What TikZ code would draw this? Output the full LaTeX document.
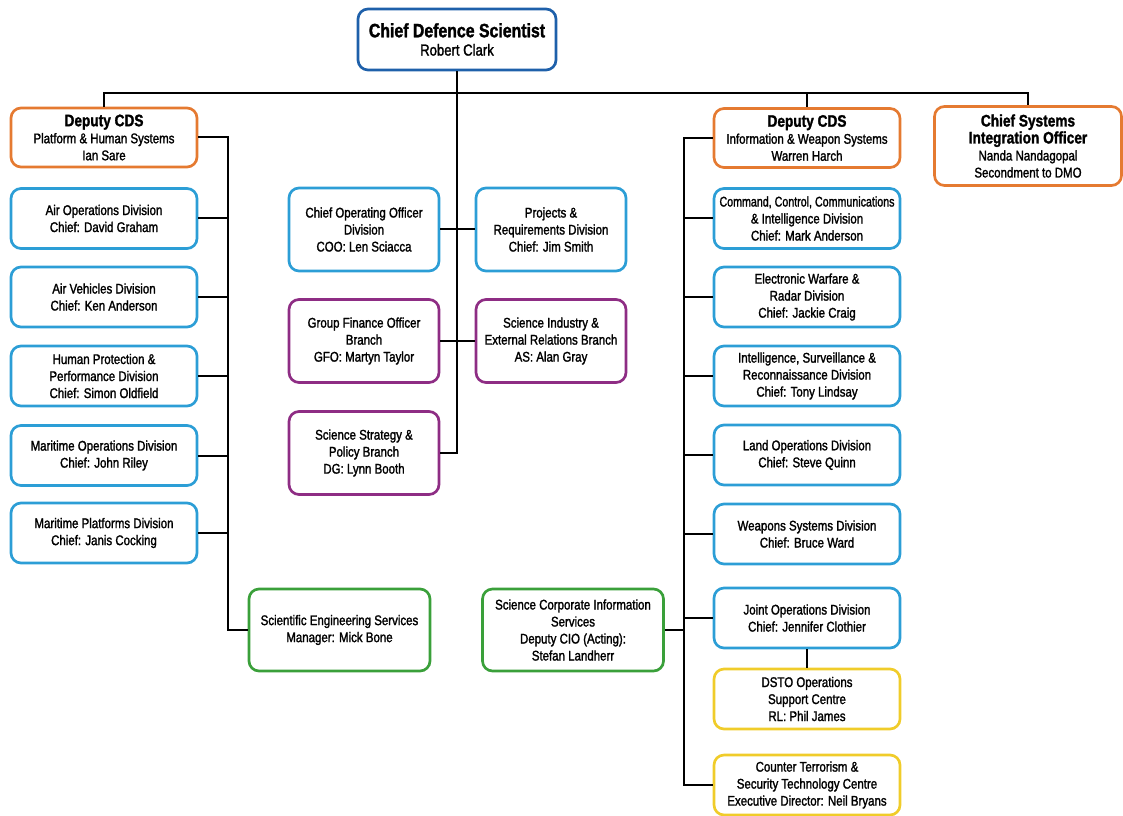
\documentclass[tikz,border=0pt]{standalone}
\usepackage{fontspec}
\setmainfont{Liberation Sans}[FakeStretch=0.82,FakeBold=1.6]
\definecolor{cblue}{RGB}{44,158,214}
\definecolor{cdsblue}{RGB}{30,96,170}
\definecolor{corange}{RGB}{229,122,49}
\definecolor{cpurple}{RGB}{142,45,132}
\definecolor{cgreen}{RGB}{58,160,58}
\definecolor{cyellow}{RGB}{240,204,42}
\newcommand{\ttl}[1]{{\fontsize{12.5}{15}\selectfont\bfseries #1}}
\begin{document}
\begin{tikzpicture}[x=0.75pt,y=-0.75pt,
  box/.style={draw, line width=2pt, rounded corners=7.5pt, fill=white, align=center, inner sep=1pt,
    font=\fontsize{10.5}{12.75}\selectfont},
  side/.style={box, minimum width=139.5pt, minimum height=45pt},
  bluebox/.style={side, draw=cblue},
  yellowbox/.style={side, draw=cyellow},
  midbox/.style={box, minimum width=112.5pt, minimum height=62.25pt},
  midblue/.style={midbox, draw=cblue},
  midpurple/.style={midbox, draw=cpurple},
  greenbox/.style={box, draw=cgreen, minimum width=135.75pt, minimum height=61.5pt},
  depbox/.style={box, draw=corange, minimum width=139.5pt, minimum height=44.25pt},
  conn/.style={line width=1.5pt, black}
]
\useasboundingbox (0,0) rectangle (1123,816);

% top
\node[box, draw=cdsblue, minimum width=148.5pt, minimum height=45.75pt] (cds) at (457,39.5)
  {{\fontsize{14.5}{17}\selectfont\bfseries Chief Defence Scientist}\\[1pt]{\fontsize{12}{14}\selectfont Robert Clark}};
\coordinate (top) at (457,93);

\node[depbox] (dl) at (104,137.5) {\ttl{Deputy CDS}\\Platform \& Human Systems\\Ian Sare};
\node[depbox] (dr) at (807,138) {\ttl{Deputy CDS}\\Information \& Weapon Systems\\Warren Harch};
\node[box, draw=corange, minimum width=140.25pt, minimum height=59.25pt] (cso) at (1028,146)
  {\ttl{Chief Systems}\\\ttl{Integration Officer}\\Nanda Nandagopal\\Secondment to DMO};

% left column
\node[bluebox] (aod) at (104,218.5) {Air Operations Division\\Chief: David Graham};
\node[bluebox] (avd) at (104,297) {Air Vehicles Division\\Chief: Ken Anderson};
\node[bluebox] (hpp) at (104,376) {Human Protection \&\\Performance Division\\Chief: Simon Oldfield};
\node[bluebox] (mod) at (104,455.5) {Maritime Operations Division\\Chief: John Riley};
\node[bluebox] (mpd) at (104,533) {Maritime Platforms Division\\Chief: Janis Cocking};
\node[greenbox] (ses) at (339.5,630) {Scientific Engineering Services\\Manager: Mick Bone};
\coordinate (lx) at (228,0);

% middle
\node[midblue] (coo) at (364,229.5) {Chief Operating Officer\\Division\\COO: Len Sciacca};
\node[midblue] (prd) at (551,229.5) {Projects \&\\Requirements Division\\Chief: Jim Smith};
\node[midpurple] (gfo) at (364,341) {Group Finance Officer\\Branch\\GFO: Martyn Taylor};
\node[midpurple] (sie) at (551,341) {Science Industry \&\\External Relations Branch\\AS: Alan Gray};
\node[midpurple] (sss) at (364,453) {Science Strategy \&\\Policy Branch\\DG: Lynn Booth};

% right column
\node[bluebox] (c3i) at (807,218.5) {\scalebox{0.93}[1]{Command, Control, Communications}\\\& Intelligence Division\\Chief: Mark Anderson};
\node[bluebox] (ewr) at (807,297) {Electronic Warfare \&\\Radar Division\\Chief: Jackie Craig};
\node[bluebox] (isr) at (807,376) {Intelligence, Surveillance \&\\Reconnaissance Division\\Chief: Tony Lindsay};
\node[bluebox] (lod) at (807,455) {Land Operations Division\\Chief: Steve Quinn};
\node[bluebox] (wsd) at (807,534) {Weapons Systems Division\\Chief: Bruce Ward};
\node[bluebox] (jod) at (807,618) {Joint Operations Division\\Chief: Jennifer Clothier};
\node[yellowbox] (dso) at (807,699) {DSTO Operations\\Support Centre\\RL: Phil James};
\node[yellowbox] (ctc) at (807,785) {Counter Terrorism \&\\Security Technology Centre\\Executive Director: Neil Bryans};
\node[greenbox] (scis) at (573,630) {Science Corporate Information\\Services\\Deputy CIO (Acting):\\Stefan Landherr};
\coordinate (rx) at (684,0);

% connectors
\draw[conn] (cds.south) |- (sss.east);
\draw[conn] (dl.north) |- (top) -| (cso.north);
\draw[conn] (top) -| (dr.north);
\draw[conn] (coo.east) -- (prd.west);
\draw[conn] (gfo.east) -- (sie.west);

\draw[conn] (dl.east) -- (dl.east -| lx) |- (ses.west);
\foreach \n in {aod,avd,hpp,mod,mpd} \draw[conn] (\n.east) -- (\n.east -| lx);

\draw[conn] (dr.west) -- (dr.west -| rx) |- (ctc.west);
\foreach \n in {c3i,ewr,isr,lod,wsd,jod} \draw[conn] (\n.west) -- (\n.west -| rx);
\draw[conn] (scis.east) -- (scis.east -| rx);
\draw[conn] (jod.south) -- (dso.north);
\end{tikzpicture}
\end{document}
